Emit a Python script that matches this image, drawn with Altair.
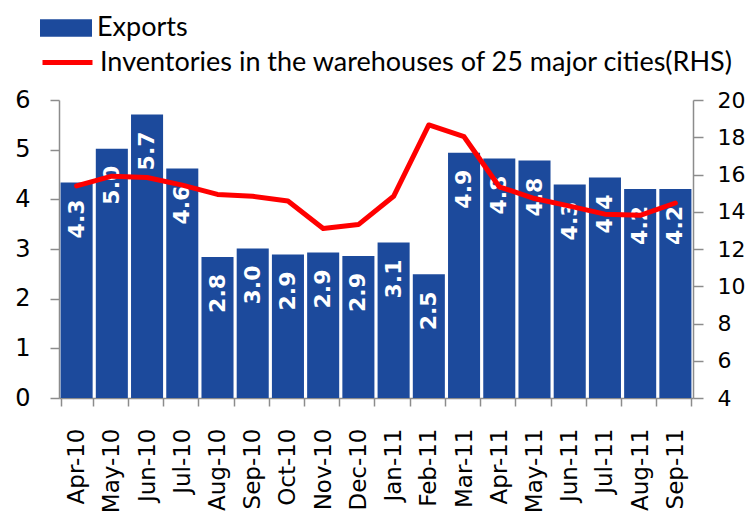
import altair as alt
import pandas as pd

months = ["Apr-10", "May-10", "Jun-10", "Jul-10", "Aug-10", "Sep-10", "Oct-10", "Nov-10",
          "Dec-10", "Jan-11", "Feb-11", "Mar-11", "Apr-11", "May-11", "Jun-11", "Jul-11",
          "Aug-11", "Sep-11"]
exports = [4.34, 5.02, 5.71, 4.62, 2.84, 3.01, 2.89, 2.93, 2.86, 3.13, 2.49, 4.94,
           4.82, 4.78, 4.30, 4.44, 4.21, 4.21]
inventories = [15.39, 15.91, 15.84, 15.43, 14.93, 14.83, 14.58, 13.10, 13.31, 14.83,
               18.66, 18.03, 15.34, 14.71, 14.30, 13.87, 13.81, 14.47]
bar_name = "Exports"
line_name = "Inventories in the warehouses of 25 major cities(RHS)"

df = pd.DataFrame({
    "month": months,
    "exports": exports,
    "inv": inventories,
    "s1": [bar_name] * len(months),
    "s2": [line_name] * len(months),
})

BLUE = "#1c4a9c"
RED = "#ff0000"
GREY = "#8c8c8c"
NUM_FONT = "DejaVu Sans"
LEG_FONT = "Lato"

x = alt.X("month:N", sort=months, title=None,
          scale=alt.Scale(paddingInner=0.09, paddingOuter=0.045),
          axis=alt.Axis(labelAngle=270, labelFont=NUM_FONT, labelFontSize=23,
                        labelColor="#000000", labelPadding=22, tickSize=8,
                        tickBand="extent", domainColor=GREY, tickColor=GREY,
                        domainWidth=1.5, tickWidth=1.5, labelLimit=300))

yl = alt.Y("exports:Q", title=None,
           scale=alt.Scale(domain=[0, 6], nice=False),
           axis=alt.Axis(values=[0, 1, 2, 3, 4, 5, 6], grid=False, labelFont=NUM_FONT,
                         labelFontSize=24, labelColor="#000000", tickSize=9,
                         labelPadding=20, domainColor=GREY, tickColor=GREY,
                         domainWidth=1.5, tickWidth=1.5))

bars = alt.Chart(df).mark_bar().encode(
    x=x,
    y=yl,
    fill=alt.Fill("s1:N", scale=alt.Scale(domain=[bar_name], range=[BLUE]),
                  legend=alt.Legend(title=None, orient="none", legendX=-19, legendY=-98,
                                    symbolType="M-1,-0.34H1V0.34H-1Z", symbolSize=2704,
                                    symbolStrokeWidth=0, symbolOpacity=1,
                                    labelFont=LEG_FONT, labelFontSize=27, labelColor="#000000",
                                    labelOffset=5, padding=0, labelLimit=800)),
)

labels = alt.Chart(df).mark_text(
    angle=270, align="right", baseline="middle", dx=-17,
    color="white", font=NUM_FONT, fontWeight="bold", fontSize=22,
).encode(
    x=alt.X("month:N", sort=months),
    y=alt.Y("exports:Q"),
    text=alt.Text("exports:Q", format=".1f"),
)

left = alt.layer(bars, labels)

line = alt.Chart(df).mark_line(strokeWidth=5, strokeCap="round", strokeJoin="round").encode(
    x=alt.X("month:N", sort=months),
    y=alt.Y("inv:Q", title=None,
            scale=alt.Scale(domain=[4, 20], nice=False),
            axis=alt.Axis(orient="right", values=list(range(4, 21, 2)), grid=False,
                          labelFont=NUM_FONT, labelFontSize=22, labelColor="#000000",
                          tickSize=10, labelPadding=14, domainColor=GREY, tickColor=GREY,
                          domainWidth=1.5, tickWidth=1.5)),
    stroke=alt.Stroke("s2:N", scale=alt.Scale(domain=[line_name], range=[RED]),
                      legend=alt.Legend(title=None, orient="none", legendX=-19, legendY=-65,
                                        symbolType="stroke", symbolSize=2500,
                                        symbolStrokeWidth=5, symbolOpacity=1,
                                        labelFont=LEG_FONT, labelFontSize=27,
                                        labelColor="#000000", labelOffset=5, padding=0,
                                        labelLimit=800)),
)

chart = alt.layer(left, line).resolve_scale(y="independent").properties(
    width=634, height=298,
    autosize=alt.AutoSizeParams(type="none"),
    padding={"left": 51, "top": 92, "right": 52, "bottom": 119},
    background="white",
).configure_view(stroke=None)

chart.save("out.html", embed_options={"renderer": "svg", "actions": False})
